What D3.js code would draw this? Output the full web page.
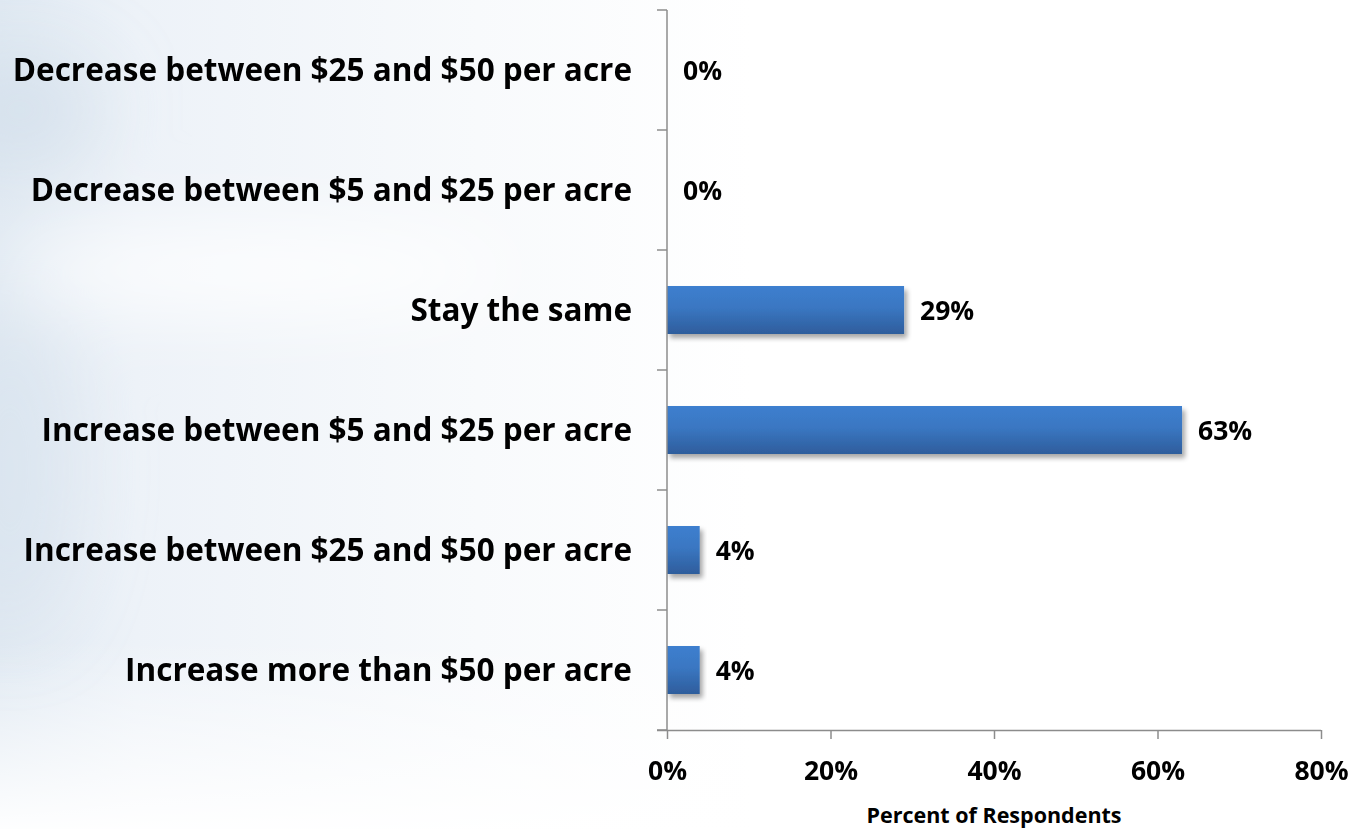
<!DOCTYPE html>
<html>
<head>
<meta charset="utf-8">
<script src="https://cdn.jsdelivr.net/npm/d3@7"></script>
<style>
  html, body { margin: 0; padding: 0; background: #fff; }
  svg { display: block; }
  text { font-family: "Open Sans", Lato, sans-serif; font-weight: 700; fill: #000; }
</style>
</head>
<body>
<svg id="chart" width="1364" height="829"></svg>
<script>
// Expected change in rent, share of respondents
const categories = [
  "Decrease between $25 and $50 per acre",
  "Decrease between $5 and $25 per acre",
  "Stay the same",
  "Increase between $5 and $25 per acre",
  "Increase between $25 and $50 per acre",
  "Increase more than $50 per acre"
];
const values = [0, 0, 29, 63, 4, 4];
const xTicks = [0, 20, 40, 60, 80];
const xTitle = "Percent of Respondents";

const W = 1364, H = 829;
const margin = { left: 667, right: 43, top: 10, bottom: 99 };
const svg = d3.select("#chart");
const defs = svg.append("defs");

// soft sky backdrop, bluish on the left fading to white
const bg = defs.append("linearGradient").attr("id", "bg").attr("x1", 0).attr("x2", 1).attr("y1", 0).attr("y2", 0);
bg.append("stop").attr("offset", 0).attr("stop-color", "#e0e9f2");
bg.append("stop").attr("offset", 0.1).attr("stop-color", "#edf2f8");
bg.append("stop").attr("offset", 0.35).attr("stop-color", "#f8fafc");
bg.append("stop").attr("offset", 0.55).attr("stop-color", "#ffffff");
svg.append("rect").attr("width", W).attr("height", H).attr("fill", "url(#bg)");

// the lower edge clears to white
const fade = defs.append("linearGradient").attr("id", "fade").attr("x1", 0).attr("x2", 0).attr("y1", 0).attr("y2", 1);
fade.append("stop").attr("offset", 0).attr("stop-color", "#fff").attr("stop-opacity", 0);
fade.append("stop").attr("offset", 1).attr("stop-color", "#fff").attr("stop-opacity", 0.95);
svg.append("rect").attr("y", 640).attr("width", W).attr("height", H - 640).attr("fill", "url(#fade)");

const haze = defs.append("filter").attr("id", "haze").attr("x", "-50%").attr("y", "-50%").attr("width", "200%").attr("height", "200%");
haze.append("feGaussianBlur").attr("stdDeviation", 40);
const cloud = svg.append("g").attr("filter", "url(#haze)");
cloud.append("ellipse").attr("cx", 20).attr("cy", 110).attr("rx", 80).attr("ry", 50).attr("fill", "#cddbe8").attr("opacity", 0.6);
cloud.append("ellipse").attr("cx", 260).attr("cy", 270).attr("rx", 260).attr("ry", 40).attr("fill", "#ffffff").attr("opacity", 0.9);
cloud.append("ellipse").attr("cx", 10).attr("cy", 470).attr("rx", 60).attr("ry", 160).attr("fill", "#d6e2ed").attr("opacity", 0.5);

// bar fill: lighter blue on top, darker at the base
const barGrad = defs.append("linearGradient").attr("id", "barGrad").attr("x1", 0).attr("x2", 0).attr("y1", 0).attr("y2", 1);
barGrad.append("stop").attr("offset", 0).attr("stop-color", "#3d7fcf");
barGrad.append("stop").attr("offset", 0.45).attr("stop-color", "#3a77c2");
barGrad.append("stop").attr("offset", 1).attr("stop-color", "#2e5d9c");

const shadow = defs.append("filter").attr("id", "shadow").attr("x", "-10%").attr("y", "-20%").attr("width", "130%").attr("height", "160%");
shadow.append("feGaussianBlur").attr("in", "SourceAlpha").attr("stdDeviation", 2.5).attr("result", "b");
shadow.append("feOffset").attr("in", "b").attr("dx", 3).attr("dy", 4).attr("result", "o");
shadow.append("feComponentTransfer").attr("in", "o").attr("result", "s")
  .append("feFuncA").attr("type", "linear").attr("slope", 0.35);
const merge = shadow.append("feMerge");
merge.append("feMergeNode").attr("in", "s");
merge.append("feMergeNode").attr("in", "SourceGraphic");

const x = d3.scaleLinear().domain([0, 80]).range([margin.left, W - margin.right]);
const y = d3.scaleBand().domain(categories).range([margin.top, H - margin.bottom]).paddingInner(0.6).paddingOuter(0.3);

// bars
svg.append("g").selectAll("rect").data(categories).join("rect")
  .attr("x", x(0))
  .attr("y", d => y(d))
  .attr("width", (d, i) => x(values[i]) - x(0))
  .attr("height", y.bandwidth())
  .attr("fill", "url(#barGrad)")
  .attr("filter", "url(#shadow)");

// value labels
svg.append("g").selectAll("text").data(categories).join("text")
  .attr("x", (d, i) => x(values[i]) + 16)
  .attr("y", d => y(d) + y.bandwidth() / 2)
  .attr("dy", "0.38em")
  .attr("font-size", 26.5)
  .text((d, i) => values[i] + "%");

// category axis: line with ticks at band boundaries
const bandEdges = d3.range(categories.length + 1).map(i => margin.top + i * (H - margin.bottom - margin.top) / categories.length);
const axisColor = "#8c8c8c";
svg.append("line").attr("x1", x(0)).attr("x2", x(0)).attr("y1", margin.top).attr("y2", H - margin.bottom)
  .attr("stroke", axisColor).attr("stroke-width", 1.5);
svg.append("g").selectAll("line").data(bandEdges).join("line")
  .attr("x1", x(0) - 10).attr("x2", x(0)).attr("y1", d => d).attr("y2", d => d)
  .attr("stroke", axisColor).attr("stroke-width", 1.5);

svg.append("g").selectAll("text").data(categories).join("text")
  .attr("x", 632)
  .attr("y", d => y(d) + y.bandwidth() / 2)
  .attr("dy", "0.36em")
  .attr("text-anchor", "end")
  .attr("font-size", 31.5)
  .text(d => d);

// value axis along the bottom
const xAxis = svg.append("g").attr("transform", `translate(0,${H - margin.bottom})`)
  .call(d3.axisBottom(x).tickValues(xTicks).tickSize(9).tickPadding(22).tickFormat(d => d + "%"));
xAxis.select(".domain").attr("stroke", axisColor).attr("stroke-width", 1.5).attr("d", `M${x(0) - 10},0.5H${W - margin.right}`);
xAxis.selectAll(".tick line").attr("stroke", axisColor).attr("stroke-width", 1.5);
xAxis.selectAll(".tick text").attr("font-size", 26.5).attr("font-family", "'Open Sans', sans-serif").attr("font-weight", 700).attr("fill", "#000");

svg.append("text")
  .attr("x", x(40))
  .attr("y", 823)
  .attr("text-anchor", "middle")
  .attr("font-size", 21.5)
  .text(xTitle);
</script>
</body>
</html>
